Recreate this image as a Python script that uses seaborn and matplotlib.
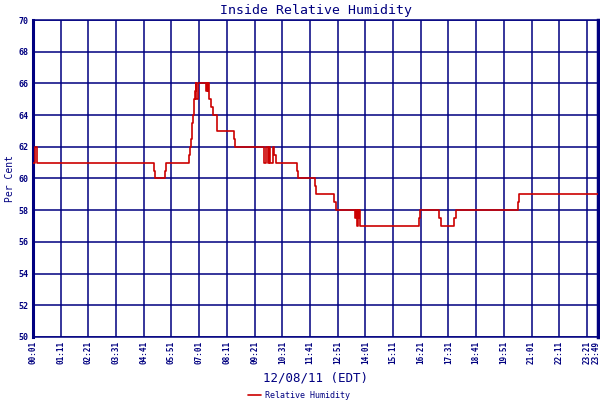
import matplotlib
matplotlib.use("Agg")
import matplotlib.pyplot as plt
import matplotlib.transforms as mtransforms
import seaborn as sns
import pandas as pd

# ---- data (minute of day, relative humidity %) ----
minutes = [1, 6, 12, 306, 309, 334, 337, 395, 397, 400, 402, 403, 405, 407, 410,
           412, 414, 417, 439, 440, 443, 444, 445, 452, 455, 467, 508, 511, 586,
           591, 595, 598, 600, 608, 610, 614, 668, 672, 713, 715, 763, 767, 815,
           818, 821, 822, 824, 826, 827, 977, 980, 1028, 1031, 1066, 1069, 1228,
           1230, 1429]
humidity = [61, 62, 61, 60.5, 60, 60.5, 61, 61.5, 62, 62.5, 63, 63.5, 64, 65, 65.5,
            66, 65, 66, 65.5, 66, 65.5, 66, 65, 64.5, 64, 63, 62.5, 62, 61,
            62, 61, 62, 61, 62, 61.5, 61, 60.5, 60, 59.5, 59, 58.5, 58, 57.5,
            58, 57, 58, 57.5, 58, 57, 57.5, 58, 57.5, 57, 57.5, 58, 58.5,
            59, 59]
x_tick_labels = ["00:01", "01:11", "02:21", "03:31", "04:41", "05:51", "07:01",
                 "08:11", "09:21", "10:31", "11:41", "12:51", "14:01", "15:11",
                 "16:21", "17:31", "18:41", "19:51", "21:01", "22:11", "23:21",
                 "23:49"]
y_ticks = [50, 52, 54, 56, 58, 60, 62, 64, 66, 68, 70]
series_name = "Relative Humidity"
title = "Inside Relative Humidity"
x_label = "12/08/11 (EDT)"
y_label = "Per Cent"

NAVY = "#000080"
RED = "#CC0000"

sns.set_style("white")
plt.rcParams["font.family"] = ["DejaVu Sans Mono", "DejaVu Sans"]

df = pd.DataFrame({"minute": minutes, "rh": humidity})

fig = plt.figure(figsize=(6, 4), dpi=100)
ax = fig.add_axes([33 / 600, 1 - 337 / 400, 565 / 600, 317 / 400])

sns.lineplot(data=df, x="minute", y="rh", ax=ax, color=RED, linewidth=1.2,
             drawstyle="steps-post", estimator=None, sort=False, zorder=3,
             label=series_name, legend=False)

tick_pos = [int(t[:2]) * 60 + int(t[3:]) for t in x_tick_labels]
ax.set_xlim(tick_pos[0], tick_pos[-1])
ax.set_ylim(y_ticks[0], y_ticks[-1])
ax.set_xticks(tick_pos)
ax.set_xticklabels(x_tick_labels, rotation=90, fontsize=5.5, color=NAVY,
                   fontweight="bold")
ax.set_yticks(y_ticks)
ax.set_yticklabels([str(v) for v in y_ticks], fontsize=6, color=NAVY,
                   fontweight="bold")
ax.tick_params(axis="both", length=0, pad=3)

# keep the last (edge) tick label inside the picture
last = ax.get_xticklabels()[-1]
last.set_transform(last.get_transform() +
                   mtransforms.ScaledTranslation(-1.8 / 100, 0, fig.dpi_scale_trans))

ax.grid(True, color=NAVY, linewidth=1.1, zorder=1)
ax.set_axisbelow(True)
for side, sp in ax.spines.items():
    sp.set_color(NAVY)
    sp.set_linewidth(1.1)
ax.spines["left"].set_linewidth(2.2)
ax.spines["right"].set_linewidth(2.5)

ax.set_title(title, fontsize=9.5, color=NAVY, pad=4)
ax.set_xlabel(x_label, fontsize=9, color=NAVY, labelpad=5)
ax.set_ylabel(y_label, fontsize=7, color=NAVY, labelpad=3)

handles, labels = ax.get_legend_handles_labels()
fig.legend(handles, labels, loc="lower center", bbox_to_anchor=(0.498, -0.018),
           frameon=False, fontsize=6, labelcolor=NAVY, handlelength=1.6,
           handletextpad=0.4)

fig.savefig("out.png", dpi=100, facecolor="white")
